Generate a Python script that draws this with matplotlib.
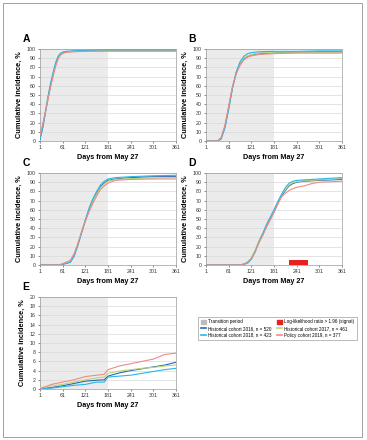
import numpy as np
import matplotlib.pyplot as plt
from matplotlib.patches import Rectangle, Patch
from matplotlib.lines import Line2D

plt.rcParams["font.family"] = ["Liberation Sans", "DejaVu Sans"]

W, H = 367, 440

# cohort colors
C2016 = "#2a66b0"
C2017 = "#b9d77a"
C2018 = "#2bb5e8"
C2019 = "#f08a84"

XTICKS = [1, 61, 121, 181, 241, 301, 361]

# panel A
a_days = [1, 8, 15, 22, 29, 36, 43, 50, 57, 64, 71, 91, 121, 181, 241, 361]
a_2016 = [2, 14, 30, 46, 60, 73, 84, 92, 95, 96.5, 97, 97.5, 98, 98.5, 98.5, 98.5]
a_2017 = [4, 16, 32, 47, 62, 74, 85, 92, 95, 96.5, 97, 97.5, 98, 98.5, 98.5, 98.5]
a_2018 = [3, 15, 31, 48, 63, 75, 86, 93, 96, 97, 97.5, 98, 98.5, 99, 99, 99]
a_2019 = [7, 18, 31, 45, 59, 71, 82, 90, 94, 95.5, 96.5, 97, 97.5, 97.5, 97.5, 97.5]

# panel B
b_days = [1, 31, 41, 51, 61, 71, 81, 91, 101, 111, 121, 141, 181, 241, 301, 361]
b_2016 = [0, 0, 3, 15, 36, 58, 74, 84, 89, 92, 93.5, 95, 96, 96.5, 97, 97]
b_2017 = [0, 0, 3, 16, 37, 58, 74, 84, 90, 92.5, 94, 95.5, 96.5, 96.5, 96.5, 96.5]
b_2018 = [0, 0, 2, 14, 34, 57, 75, 86, 92, 95, 96, 97, 97.5, 97.5, 98, 98]
b_2019 = [0, 0, 4, 17, 38, 59, 73, 82, 88, 91, 92.5, 94, 95, 95.5, 95.5, 95.5]

# panel C
c_days = [1, 51, 61, 81, 91, 101, 111, 121, 131, 141, 151, 161, 171, 181, 201, 241, 301, 361]
c_2016 = [0, 0, 1, 3, 10, 22, 35, 48, 60, 70, 78, 85, 89, 92, 93.5, 95, 96, 96]
c_2017 = [0, 0, 1, 4, 11, 23, 36, 49, 60, 70, 77, 84, 88, 91, 93, 94, 94.5, 95]
c_2018 = [0, 0, 0.5, 3, 9, 21, 35, 49, 62, 72, 80, 87, 91, 93.5, 95, 96, 97, 97.5]
c_2019 = [0, 0, 1.5, 5, 12, 23, 36, 48, 58, 67, 75, 82, 86, 89, 92, 93, 93.5, 93.5]

# panel D
d_days = [1, 91, 101, 111, 121, 131, 141, 151, 161, 171, 181, 191, 201, 211, 221, 231, 241, 261, 281, 301, 361]
d_2016 = [0, 0, 1, 3, 7, 15, 25, 33, 42, 50, 58, 67, 75, 81, 86, 88.5, 90, 91, 91.5, 92, 93]
d_2017 = [0, 0, 1, 3, 8, 16, 26, 34, 43, 51, 59, 68, 76, 82, 87, 89.5, 90.5, 91.5, 92, 92.5, 94]
d_2018 = [0, 0, 0.5, 2, 6, 14, 25, 34, 44, 52, 60, 69, 77, 84, 89, 91, 92, 92.5, 93, 93.5, 95]
d_2019 = [0, 0, 1, 3, 7, 15, 24, 32, 41, 49, 57, 66, 74, 78, 81, 83, 84.5, 86, 88.5, 90, 91]
d_signal = [221, 271]
d_signal_height = 5

# panel E
e_days = [1, 31, 61, 91, 121, 151, 171, 181, 211, 241, 271, 301, 331, 361]
e_2016 = [0, 0.3, 0.7, 1.2, 1.7, 1.9, 2.0, 2.8, 3.5, 4.0, 4.4, 4.8, 5.2, 5.8]
e_2017 = [0.3, 0.7, 1.0, 1.5, 2.0, 2.4, 2.6, 3.4, 3.9, 4.2, 4.5, 4.7, 5.0, 5.2]
e_2018 = [0, 0.2, 0.5, 0.8, 1.0, 1.5, 1.5, 2.6, 2.8, 3.0, 3.4, 3.8, 4.2, 4.5]
e_2019 = [0, 1.0, 1.5, 2.0, 2.7, 3.0, 3.2, 4.2, 5.0, 5.5, 6.0, 6.5, 7.5, 7.8]

legend_labels = [
    "Transition period",
    "Log-likelihood ratio > 1.96 (signal)",
    "Historical cohort 2016, n = 520",
    "Historical cohort 2017, n = 461",
    "Historical cohort 2018, n = 423",
    "Policy cohort 2019, n = 377",
]


def box(x0, y0, x1, y1):
    return [x0 / W, 1 - y1 / H, (x1 - x0) / W, (y1 - y0) / H]


def panel(fig, rect, letter, days, series, ymax, ystep, signal=None):
    ax = fig.add_axes(box(*rect))
    ax.axvspan(1, 181, color="#ebebeb", zorder=0, lw=0)
    for y in np.arange(0, ymax + ystep, ystep):
        ax.axhline(y, color="#d9d9d9", lw=0.5, zorder=1)
    if signal:
        ax.add_patch(Rectangle((signal[0], 0), signal[1] - signal[0], d_signal_height,
                               color="#e8211f", zorder=3, lw=0))
    for vals, col in zip(series, [C2016, C2017, C2018, C2019]):
        ax.plot(days, vals, color=col, lw=0.8, zorder=4)
    ax.set_xlim(1, 361)
    ax.set_ylim(0, ymax)
    ax.set_xticks(XTICKS)
    ax.set_yticks(np.arange(0, ymax + ystep, ystep))
    ax.tick_params(labelsize=3.8, length=1.5, width=0.4, colors="#333333", pad=1.5)
    for s in ax.spines.values():
        s.set_color("#9a9a9a")
        s.set_linewidth(0.5)
    ax.set_xlabel("Days from May 27", fontsize=5.2, fontweight="bold", labelpad=2.5)
    ax.set_ylabel("Cumulative incidence, %", fontsize=5.3, fontweight="bold", labelpad=3)
    ax.text(-0.13, 1.05, letter, transform=ax.transAxes, fontsize=7.5,
            fontweight="bold", va="bottom", ha="left")
    return ax


fig = plt.figure(figsize=(W / 100, H / 100), dpi=100)

fig.patches.append(Rectangle((3 / W, 3 / H), (362 - 3) / W, (437 - 3) / H,
                             transform=fig.transFigure, fill=False,
                             edgecolor="#a0a0a0", lw=0.7))

panel(fig, (40, 49, 176, 141), "A", a_days, [a_2016, a_2017, a_2018, a_2019], 100, 10)
panel(fig, (206, 49, 342, 141), "B", b_days, [b_2016, b_2017, b_2018, b_2019], 100, 10)
panel(fig, (40, 173, 176, 265), "C", c_days, [c_2016, c_2017, c_2018, c_2019], 100, 10)
panel(fig, (206, 173, 342, 265), "D", d_days, [d_2016, d_2017, d_2018, d_2019], 100, 10,
      signal=d_signal)
panel(fig, (40, 297, 176, 389), "E", e_days, [e_2016, e_2017, e_2018, e_2019], 20, 2)

handles = [
    Patch(color="#bdbdbd"),
    Line2D([], [], color=C2016, lw=1.2),
    Line2D([], [], color=C2018, lw=1.2),
    Patch(color="#e8211f"),
    Line2D([], [], color=C2017, lw=1.2),
    Line2D([], [], color=C2019, lw=1.2),
]
labels = [legend_labels[i] for i in [0, 2, 4, 1, 3, 5]]
leg = fig.legend(handles, labels, loc="center", bbox_to_anchor=(277.5 / W, 1 - 328.5 / H),
                 ncol=2, fontsize=3.3, frameon=True, fancybox=False,
                 handlelength=1.0, handleheight=0.8, columnspacing=1.2,
                 labelspacing=0.35, borderpad=0.6, handletextpad=0.5)
leg.get_frame().set_edgecolor("#888888")
leg.get_frame().set_linewidth(0.5)

fig.savefig("out.png", dpi=100)
